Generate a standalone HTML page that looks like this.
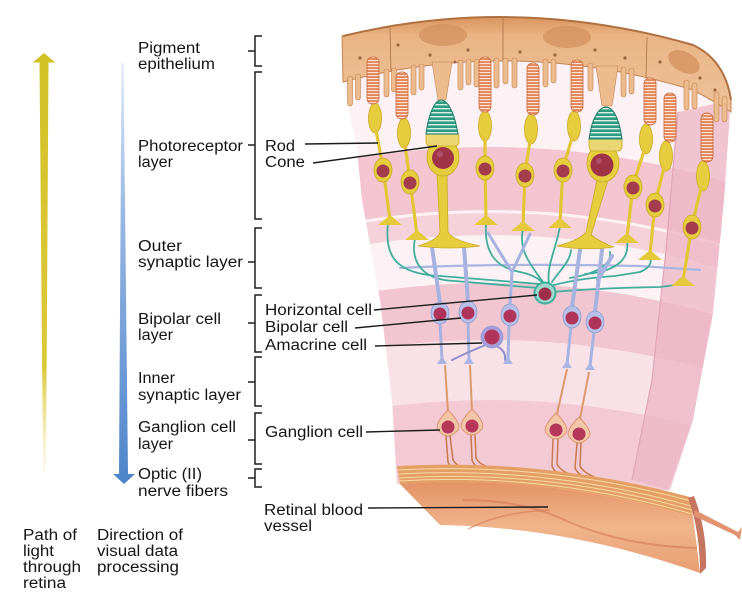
<!DOCTYPE html>
<html><head><meta charset="utf-8">
<style>
html,body{margin:0;padding:0;background:#fff;}
svg{display:block;}
text{font-family:"Liberation Sans",Arial,sans-serif;font-size:15.3px;fill:#151515;}
</style></head><body>
<svg width="742" height="599" viewBox="0 0 742 599" xmlns="http://www.w3.org/2000/svg">
<defs>
 <linearGradient id="yel" x1="0" y1="0" x2="0" y2="1">
  <stop offset="0" stop-color="#d3c128"/>
  <stop offset="0.75" stop-color="#dbc93a"/>
  <stop offset="1" stop-color="#f1eaa8" stop-opacity="0.2"/>
 </linearGradient>
 <linearGradient id="blu" x1="0" y1="0" x2="0" y2="1">
  <stop offset="0" stop-color="#e2eaf7"/>
  <stop offset="0.35" stop-color="#9ab9e3"/>
  <stop offset="1" stop-color="#4d84cb"/>
 </linearGradient>
 <linearGradient id="pig" x1="0" y1="0" x2="0" y2="1">
  <stop offset="0" stop-color="#d9955f"/>
  <stop offset="0.2" stop-color="#e9b485"/>
  <stop offset="1" stop-color="#efc39a"/>
 </linearGradient>
 <linearGradient id="ves" x1="0" y1="0" x2="0" y2="1">
  <stop offset="0" stop-color="#e49266"/>
  <stop offset="0.5" stop-color="#f0b58c"/>
  <stop offset="1" stop-color="#e79d72"/>
 </linearGradient>
 <pattern id="rs" patternUnits="userSpaceOnUse" width="20" height="3">
  <rect width="20" height="3" fill="#e3865a"/>
  <rect y="0" width="20" height="1.1" fill="#fbe4d4"/>
 </pattern>
 <pattern id="cs" patternUnits="userSpaceOnUse" width="40" height="4">
  <rect width="40" height="4" fill="#2d9b82"/>
  <rect y="0" width="40" height="1.4" fill="#d8f0e8"/>
 </pattern>
 <clipPath id="wedge">
  <path d="M342 36 Q516 -6 693 45 Q725 60 731 100 L724 200 L713 313 L693 420 L670 490 L397 484 L392 400 L380 300 L362 200 L357 150 L345 90 Z"/>
 </clipPath>
</defs>

<!-- LEFT ARROWS -->
<polygon points="44,53 55.5,62.5 48.5,62.5 46,472 43,472 39.5,62.5 32.5,62.5" fill="url(#yel)"/>
<polygon points="121.5,63 123.5,63 128,474 135,474 124,484 113,474 119,474" fill="url(#blu)"/>

<!-- BRACKETS -->
<g stroke="#1f1f1f" stroke-width="1.5" fill="none">
 <path d="M262 36 L255 36 L255 66 L262 66 M255 51 L248 51"/>
 <path d="M262 72 L255 72 L255 219 L262 219 M255 145 L248 145"/>
 <path d="M262 228 L255 228 L255 288 L262 288 M255 262 L248 262"/>
 <path d="M262 295 L255 295 L255 352 L262 352 M255 323 L248 323"/>
 <path d="M262 357 L255 357 L255 406 L262 406 M255 382 L248 382"/>
 <path d="M262 413 L255 413 L255 464 L262 464 M255 440 L248 440"/>
 <path d="M262 469 L255 469 L255 487 L262 487 M255 478 L248 478"/>
</g>

<!-- WEDGE BODY -->
<g clip-path="url(#wedge)">
 <rect x="330" y="0" width="412" height="520" fill="#fcf1f4"/>
 <path d="M330 163 Q535 122 740 186 L740 249 Q535 185 330 226 Z" fill="#f2c5d0"/>
 <path d="M330 229 Q535 188 740 252 L740 274 Q535 210 330 251 Z" fill="#f5d2da"/>
 <path d="M330 299 Q535 258 740 322 L740 379 Q535 315 330 356 Z" fill="#f2c6d1"/>
 <path d="M330 356 Q535 315 740 379 L740 439 Q535 375 330 416 Z" fill="#f8e2e8"/>
 <path d="M330 416 Q535 375 740 439 L740 520 L330 520 Z" fill="#f3c9d4"/>
 <path d="M678 112 L731 100 L724 200 L713 313 L693 420 L668 490 L632 480 L652 380 L666 250 Z" fill="#ecb6c6" opacity="0.75"/>
 <path d="M678 112 L666 250 L652 380 L632 480" stroke="#e2a3b6" stroke-width="1.2" fill="none"/>
</g>

<!-- PIGMENT EPITHELIUM -->
<path d="M342 36 Q516 -6 693 45 Q725 60 731 100 L731 112 Q712 100 693 90 Q516 36 343 82 Z" fill="url(#pig)" stroke="#c4844f" stroke-width="1"/>
<path d="M343 36 Q516 -6 693 45 Q725 60 731 100" fill="none" stroke="#b0703f" stroke-width="2"/>
<g fill="#d3915f" opacity="0.75">
 <ellipse cx="443" cy="35" rx="24" ry="11"/>
 <ellipse cx="567" cy="37" rx="24" ry="11"/>
 <ellipse cx="684" cy="62" rx="17" ry="10" transform="rotate(28 684 62)"/>
</g>
<g stroke="#b3784c" stroke-width="0.9">
 <line x1="390" y1="27" x2="391" y2="72"/>
 <line x1="503" y1="18" x2="503" y2="62"/>
 <line x1="647" y1="37" x2="646" y2="78"/>
</g>
<g fill="#ecbb8e" stroke="#c4854f" stroke-width="0.6">
 <rect x="347.5" y="76" width="5" height="30" rx="2.5"/>
 <rect x="355.5" y="74" width="5" height="26" rx="2.5"/>
 <rect x="384" y="69" width="5" height="28" rx="2.5"/>
 <rect x="391.5" y="68" width="5" height="24" rx="2.5"/>
 <rect x="411" y="65" width="5" height="30" rx="2.5"/>
 <rect x="419" y="64" width="5" height="26" rx="2.5"/>
 <path d="M432 62 L452 62 L446 100 L438 100 Z"/>
 <rect x="458" y="60" width="5" height="30" rx="2.5"/>
 <rect x="466" y="59" width="5" height="26" rx="2.5"/>
 <rect x="474" y="59" width="5" height="28" rx="2.5"/>
 <rect x="494" y="58" width="5" height="30" rx="2.5"/>
 <rect x="503" y="58" width="5" height="26" rx="2.5"/>
 <rect x="512" y="58" width="5" height="30" rx="2.5"/>
 <rect x="543" y="59" width="5" height="28" rx="2.5"/>
 <rect x="551" y="59" width="5" height="24" rx="2.5"/>
 <rect x="588" y="63" width="5" height="28" rx="2.5"/>
 <path d="M596 66 L618 66 L612 106 L602 106 Z"/>
 <rect x="621" y="67" width="5" height="30" rx="2.5"/>
 <rect x="629" y="68" width="5" height="26" rx="2.5"/>
 <rect x="684" y="80" width="5" height="30" rx="2.5"/>
 <rect x="692" y="83" width="5" height="26" rx="2.5"/>
 <rect x="714" y="92" width="5" height="30" rx="2.5"/>
 <rect x="722" y="96" width="5" height="26" rx="2.5"/>
</g>
<g fill="#9e6644">
 <circle cx="360" cy="58" r="1.6"/><circle cx="398" cy="45" r="1.6"/><circle cx="430" cy="55" r="1.6"/>
 <circle cx="468" cy="50" r="1.6"/><circle cx="520" cy="52" r="1.6"/><circle cx="555" cy="55" r="1.6"/>
 <circle cx="595" cy="50" r="1.6"/><circle cx="625" cy="58" r="1.6"/><circle cx="660" cy="62" r="1.6"/>
 <circle cx="700" cy="78" r="1.6"/><circle cx="715" cy="90" r="1.6"/><circle cx="455" cy="62" r="1.4"/>
</g>

<!-- TEAL HORIZONTAL PROCESSES & LAVENDER -->
<g fill="none" stroke-linecap="round">
 <path d="M400 268 Q500 263 640 266 L700 270" stroke="#a9b6e2" stroke-width="2.2"/>
 <g stroke="#3fae9c" stroke-width="1.8">
  <path d="M388 224 C384 258 398 274 440 276 L540 284"/>
  <path d="M415 238 C410 264 424 280 455 281 L538 288"/>
  <path d="M486 224 C484 255 498 268 520 272 Q540 276 545 287"/>
  <path d="M523 229 C518 252 532 266 545 285"/>
  <path d="M560 226 C556 250 546 266 549 284"/>
  <path d="M550 286 Q580 278 615 276 L640 272 C650 268 652 262 650 258"/>
  <path d="M552 292 Q600 288 660 287 L683 284"/>
  <path d="M627 241 C630 262 612 272 585 274"/>
  <path d="M571 250 C570 262 560 270 552 282"/>
  <path d="M610 252 C612 265 595 274 570 278"/>
 </g>
</g>

<!-- BIPOLAR CELLS -->
<g stroke="#a6b3e0" stroke-linecap="round" fill="none">
 <path d="M432 247 L440 303" stroke-width="4"/>
 <path d="M440 322 L442 360" stroke-width="3"/>
 <path d="M464 247 L468 302" stroke-width="4"/>
 <path d="M468 322 L469 360" stroke-width="3"/>
 <path d="M510 305 L512 272 L488 233 M512 272 L530 234" stroke-width="3"/>
 <path d="M509 325 L508 360" stroke-width="3"/>
 <path d="M580 250 L572 307" stroke-width="4"/>
 <path d="M571 327 L567 364" stroke-width="3"/>
 <path d="M602 250 L595 312 M598 280 L612 256" stroke-width="4"/>
 <path d="M594 332 L590 366" stroke-width="3"/>
 <path d="M488 344 Q468 352 452 360 M496 346 Q506 350 505 360 Q506 362 510 362" stroke="#8f8ec8" stroke-width="2"/>
</g>
<g fill="#a9b5e2">
 <path d="M437 364 L447 364 L442 356 Z"/><path d="M464 364 L474 364 L469 356 Z"/>
 <path d="M503 364 L513 364 L508 356 Z"/><path d="M562 368 L572 368 L567 360 Z"/>
 <path d="M585 370 L595 370 L590 362 Z"/>
</g>
<g stroke="#8d9bd0" stroke-width="0.8">
 <ellipse cx="440" cy="313" rx="9" ry="11" fill="#b7c1e8"/>
 <ellipse cx="468" cy="312" rx="9" ry="11" fill="#b7c1e8"/>
 <ellipse cx="510" cy="315" rx="9" ry="11" fill="#b7c1e8"/>
 <ellipse cx="572" cy="317" rx="9" ry="11" fill="#b7c1e8"/>
 <ellipse cx="595" cy="322" rx="9" ry="11" fill="#b7c1e8"/>
 <circle cx="492" cy="337" r="11" fill="#a79bd8"/>
</g>
<g fill="#b0345a">
 <circle cx="440" cy="314" r="6.5"/><circle cx="468" cy="313" r="6.5"/><circle cx="510" cy="316" r="6.5"/>
 <circle cx="572" cy="318" r="6.5"/><circle cx="595" cy="323" r="6.5"/><circle cx="492" cy="337" r="7.5"/>
</g>
<circle cx="545" cy="293" r="10.5" fill="#9fd8cc" stroke="#3fae9c" stroke-width="2"/>
<circle cx="545" cy="294" r="6.5" fill="#9e2f4c"/>

<!-- GANGLION CELLS -->
<g stroke="#dc9a6e" stroke-width="2" fill="none">
 <path d="M445 365 L448 412"/><path d="M470 365 L472 411"/>
 <path d="M567 369 L557 414"/><path d="M589 372 L580 419"/>
</g>
<g stroke="#c77a4e" stroke-width="1.5" fill="none">
 <path d="M446 436 L448 462 Q452 474 480 478"/><path d="M450 436 L453 460 Q458 470 490 476"/>
 <path d="M471 435 L472 460 Q476 472 505 478"/><path d="M475 435 L476 458 Q480 468 515 474"/>
 <path d="M553 439 L552 466 Q556 478 590 484"/><path d="M558 439 L557 464 Q562 476 600 482"/>
 <path d="M577 443 L575 468 Q580 480 615 488"/><path d="M581 443 L580 466 Q586 478 625 486"/>
</g>
<g fill="#f4c6a8" stroke="#d8906a" stroke-width="0.9">
 <path d="M448 410 Q462 424 458 430 Q448 442 438 430 Q434 424 448 410 Z"/>
 <path d="M472 409 Q486 423 482 429 Q472 441 462 429 Q458 423 472 409 Z"/>
 <path d="M556 413 Q570 427 566 433 Q556 445 546 433 Q542 427 556 413 Z"/>
 <path d="M579 417 Q593 431 589 437 Q579 449 569 437 Q565 431 579 417 Z"/>
</g>
<g fill="#b5385a">
 <circle cx="448" cy="427" r="6.5"/><circle cx="472" cy="426" r="6.5"/>
 <circle cx="556" cy="430" r="6.5"/><circle cx="579" cy="434" r="6.5"/>
</g>

<!-- RODS -->
<g>
 <g fill="#e6cd3e" stroke="#c9a824" stroke-width="0.8">
  <ellipse cx="375" cy="118" rx="6.5" ry="15"/><ellipse cx="404" cy="133" rx="6.5" ry="15"/>
  <ellipse cx="485" cy="126" rx="6.5" ry="15"/><ellipse cx="531" cy="129" rx="6.5" ry="15"/>
  <ellipse cx="574" cy="126" rx="6.5" ry="15"/><ellipse cx="646" cy="139" rx="6.5" ry="15"/>
  <ellipse cx="666" cy="156" rx="6.5" ry="15"/><ellipse cx="703" cy="176" rx="6.5" ry="15"/>
 </g>
 <g stroke="#e2c636" stroke-width="3.2" stroke-linecap="round" fill="none">
  <path d="M376 130 L383 168 L390 220"/><path d="M405 145 L410 180 L417 235"/>
  <path d="M485 138 L485 166 L486 220"/><path d="M530 141 L525 173 L523 226"/>
  <path d="M572 138 L563 168 L560 223"/><path d="M644 151 L633 185 L627 238"/>
  <path d="M664 168 L655 203 L650 255"/><path d="M701 188 L692 225 L683 281"/>
 </g>
 <g fill="#e4c93a">
  <path d="M378 225 L402 225 L390 215 Z"/><path d="M405 240 L429 240 L417 230 Z"/>
  <path d="M474 225 L498 225 L486 215 Z"/><path d="M511 231 L535 231 L523 221 Z"/>
  <path d="M548 228 L572 228 L560 218 Z"/><path d="M615 243 L639 243 L627 233 Z"/>
  <path d="M638 260 L662 260 L650 250 Z"/><path d="M671 286 L695 286 L683 276 Z"/>
 </g>
 <g fill="#e6cd3e" stroke="#c9a824" stroke-width="0.8">
  <ellipse cx="383" cy="170" rx="9" ry="12"/><ellipse cx="410" cy="182" rx="9" ry="12"/>
  <ellipse cx="485" cy="168" rx="9" ry="12"/><ellipse cx="525" cy="175" rx="9" ry="12"/>
  <ellipse cx="563" cy="170" rx="9" ry="12"/><ellipse cx="633" cy="187" rx="9" ry="12"/>
  <ellipse cx="655" cy="205" rx="9" ry="12"/><ellipse cx="692" cy="227" rx="9" ry="12"/>
 </g>
 <g fill="#a33c4c">
  <circle cx="383" cy="171" r="6.5"/><circle cx="410" cy="183" r="6.5"/>
  <circle cx="485" cy="169" r="6.5"/><circle cx="525" cy="176" r="6.5"/>
  <circle cx="563" cy="171" r="6.5"/><circle cx="633" cy="188" r="6.5"/>
  <circle cx="655" cy="206" r="6.5"/><circle cx="692" cy="228" r="6.5"/>
 </g>
 <g fill="url(#rs)" stroke="#c86a3a" stroke-width="0.8">
  <rect x="367" y="57" width="12" height="47" rx="5.5"/>
  <rect x="396" y="72" width="12" height="47" rx="5.5"/>
  <rect x="479" y="57" width="12" height="55" rx="5.5"/>
  <rect x="527" y="63" width="12" height="52" rx="5.5"/>
  <rect x="571" y="60" width="12" height="52" rx="5.5"/>
  <rect x="644" y="78" width="12" height="47" rx="5.5"/>
  <rect x="664" y="93" width="12" height="49" rx="5.5"/>
  <rect x="701" y="113" width="12" height="49" rx="5.5"/>
 </g>
</g>

<!-- CONES -->
<g>
 <path d="M437 175 L447 175 L448 232 Q452 240 480 246 Q450 250 418 246 Q438 240 440 232 Z" fill="#e6cd3e" stroke="#c9a824" stroke-width="0.8"/>
 <ellipse cx="443" cy="157" rx="16" ry="19" fill="#e6cd3e" stroke="#c9a824" stroke-width="0.8"/>
 <rect x="426" y="132" width="33" height="14" rx="4" fill="#ead771" stroke="#c9a824" stroke-width="0.8"/>
 <path d="M426 134 C429 110 436 100 441 100 C447 100 454 110 458 134 Z" fill="url(#cs)" stroke="#1f7c66" stroke-width="1"/>
 <circle cx="443" cy="158" r="11" fill="#9e3446"/>
 <circle cx="440" cy="154" r="3" fill="#c0607a" opacity="0.6"/>

 <path d="M597 180 L608 180 L591 235 Q600 242 614 247 Q585 251 557 246 Q580 240 586 232 Z" fill="#e6cd3e" stroke="#c9a824" stroke-width="0.8"/>
 <ellipse cx="603" cy="163" rx="16" ry="19" fill="#e6cd3e" stroke="#c9a824" stroke-width="0.8"/>
 <rect x="589" y="137" width="33" height="14" rx="4" fill="#ead771" stroke="#c9a824" stroke-width="0.8"/>
 <path d="M589 139 C592 116 600 107 606 107 C612 107 619 116 622 139 Z" fill="url(#cs)" stroke="#1f7c66" stroke-width="1"/>
 <circle cx="602" cy="165" r="11.5" fill="#9e3446"/>
 <circle cx="599" cy="161" r="3" fill="#c0607a" opacity="0.6"/>
</g>

<!-- FIBER BAND & VESSEL -->
<path d="M400 484 Q548 474 693 517 Q697 545 700 573 Q570 527 440 525 Z" fill="url(#ves)"/>
<path d="M462 500 Q520 500 560 518 Q620 546 697 548" fill="none" stroke="#d57a58" stroke-width="2" opacity="0.6"/>
<path d="M468 529 Q500 512 550 510" fill="none" stroke="#d57a58" stroke-width="1.5" opacity="0.6"/>
<path d="M397 466 Q546 458 690 497 L693 517 Q548 474 400 484 Z" fill="#e4a064"/>
<g fill="none" stroke="#f7d9a6" stroke-width="1">
 <path d="M398 470 Q547 462 691 501"/>
 <path d="M398 474 Q547 466 691 506"/>
 <path d="M399 478 Q547 469 692 510"/>
 <path d="M399 481 Q547 472 692 514"/>
</g>
<path d="M688 498 Q700 530 700 574 L706 568 Q707 530 694 496 Z" fill="#c67560"/>
<path d="M695 510 L738 532 L742 527 L740 540 L735 535 L694 516 Z" fill="#e29470"/>

<!-- LABEL LINES -->
<g stroke="#1a1a1a" stroke-width="1.4" fill="none">
 <line x1="305" y1="144" x2="378" y2="143"/>
 <line x1="313" y1="163" x2="437" y2="146"/>
 <line x1="374" y1="310" x2="537" y2="295"/>
 <line x1="355" y1="328" x2="461" y2="318"/>
 <line x1="375" y1="346" x2="482" y2="343"/>
 <line x1="366" y1="432" x2="440" y2="430"/>
 <line x1="368" y1="508" x2="548" y2="507"/>
</g>

<!-- TEXT -->
<text x="138" y="53" textLength="62" lengthAdjust="spacingAndGlyphs">Pigment</text>
<text x="138" y="69" textLength="77" lengthAdjust="spacingAndGlyphs">epithelium</text>
<text x="138" y="151" textLength="105" lengthAdjust="spacingAndGlyphs">Photoreceptor</text>
<text x="138" y="167" textLength="35" lengthAdjust="spacingAndGlyphs">layer</text>
<text x="265" y="151" textLength="30" lengthAdjust="spacingAndGlyphs">Rod</text>
<text x="265" y="167" textLength="40" lengthAdjust="spacingAndGlyphs">Cone</text>
<text x="138" y="251" textLength="44" lengthAdjust="spacingAndGlyphs">Outer</text>
<text x="138" y="267" textLength="105" lengthAdjust="spacingAndGlyphs">synaptic layer</text>
<text x="138" y="324" textLength="83" lengthAdjust="spacingAndGlyphs">Bipolar cell</text>
<text x="138" y="340" textLength="35" lengthAdjust="spacingAndGlyphs">layer</text>
<text x="265" y="315" textLength="107" lengthAdjust="spacingAndGlyphs">Horizontal cell</text>
<text x="265" y="332" textLength="83" lengthAdjust="spacingAndGlyphs">Bipolar cell</text>
<text x="265" y="350" textLength="102" lengthAdjust="spacingAndGlyphs">Amacrine cell</text>
<text x="138" y="383" textLength="37" lengthAdjust="spacingAndGlyphs">Inner</text>
<text x="138" y="400" textLength="103" lengthAdjust="spacingAndGlyphs">synaptic layer</text>
<text x="138" y="432" textLength="98" lengthAdjust="spacingAndGlyphs">Ganglion cell</text>
<text x="138" y="449" textLength="35" lengthAdjust="spacingAndGlyphs">layer</text>
<text x="265" y="437" textLength="98" lengthAdjust="spacingAndGlyphs">Ganglion cell</text>
<text x="138" y="479" textLength="64" lengthAdjust="spacingAndGlyphs">Optic (II)</text>
<text x="138" y="496" textLength="90" lengthAdjust="spacingAndGlyphs">nerve fibers</text>
<text x="264" y="515" textLength="99" lengthAdjust="spacingAndGlyphs">Retinal blood</text>
<text x="264" y="531" textLength="48" lengthAdjust="spacingAndGlyphs">vessel</text>
<text x="23" y="540" textLength="54" lengthAdjust="spacingAndGlyphs">Path of</text>
<text x="23" y="556" textLength="31" lengthAdjust="spacingAndGlyphs">light</text>
<text x="23" y="572" textLength="58" lengthAdjust="spacingAndGlyphs">through</text>
<text x="23" y="588" textLength="43" lengthAdjust="spacingAndGlyphs">retina</text>
<text x="97" y="540" textLength="86" lengthAdjust="spacingAndGlyphs">Direction of</text>
<text x="97" y="556" textLength="81" lengthAdjust="spacingAndGlyphs">visual data</text>
<text x="97" y="572" textLength="82" lengthAdjust="spacingAndGlyphs">processing</text>
</svg>
</body></html>
